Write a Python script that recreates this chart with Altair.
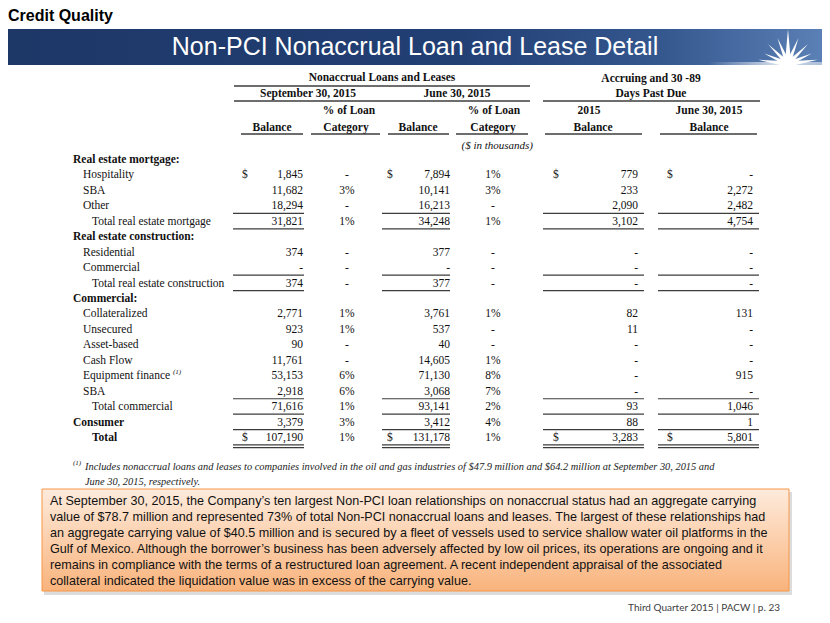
import altair as alt
import pandas as pd

# ---------------- data ----------------
page_title = "Credit Quality"
slide_title = "Non-PCI Nonaccrual Loan and Lease Detail"

row_labels = ["Real estate mortgage:", "Hospitality", "SBA", "Other", "Total real estate mortgage",
              "Real estate construction:", "Residential", "Commercial", "Total real estate construction",
              "Commercial:", "Collateralized", "Unsecured", "Asset-based", "Cash Flow", "Equipment finance",
              "SBA", "Total commercial", "Consumer", "Total"]
row_level = [0, 1, 1, 1, 2, 0, 1, 1, 2, 0, 1, 1, 1, 1, 1, 1, 2, 0, 2]
row_bold = [True, False, False, False, False, True, False, False, False, True,
            False, False, False, False, False, False, False, True, True]

sep30_balance = ["", "1,845", "11,682", "18,294", "31,821", "", "374", "-", "374", "",
                 "2,771", "923", "90", "11,761", "53,153", "2,918", "71,616", "3,379", "107,190"]
sep30_pct = ["", "-", "3%", "-", "1%", "", "-", "-", "-", "",
             "1%", "1%", "-", "-", "6%", "6%", "1%", "3%", "1%"]
jun30_balance = ["", "7,894", "10,141", "16,213", "34,248", "", "377", "-", "377", "",
                 "3,761", "537", "40", "14,605", "71,130", "3,068", "93,141", "3,412", "131,178"]
jun30_pct = ["", "1%", "3%", "-", "1%", "", "-", "-", "-", "",
             "1%", "-", "-", "1%", "8%", "7%", "2%", "4%", "1%"]
accruing_2015 = ["", "779", "233", "2,090", "3,102", "", "-", "-", "-", "",
                 "82", "11", "-", "-", "-", "-", "93", "88", "3,283"]
accruing_jun30 = ["", "-", "2,272", "2,482", "4,754", "", "-", "-", "-", "",
                  "131", "-", "-", "-", "915", "-", "1,046", "1", "5,801"]
dollar_rows = [1, 18]
single_rule_rows = [3, 4, 7, 8, 15, 16, 17]
double_rule_rows = [18]
footnoted_row = 14

header_top = ["Nonaccrual Loans and Leases", "Accruing and 30 -89"]
header_dates = ["September 30, 2015", "June 30, 2015", "Days Past Due"]
header_mid = ["% of Loan", "% of Loan", "2015", "June 30, 2015"]
header_sub = ["Balance", "Category", "Balance", "Category", "Balance", "Balance"]
units_note = "($ in thousands)"
footnote_mark = "(1)"
footnote_lines = [
    "Includes nonaccrual loans and leases to companies involved in the oil and gas industries of $47.9 million and $64.2 million at September 30, 2015 and",
    "June 30, 2015, respectively.",
]
box_lines = [
    "At September 30, 2015, the Company\u2019s ten largest Non-PCI loan relationships on nonaccrual status had an aggregate carrying",
    "value of $78.7 million and represented 73% of total Non-PCI nonaccrual loans and leases. The largest of these relationships had",
    "an aggregate carrying value of $40.5 million and is secured by a fleet of vessels used to service shallow water oil platforms in the",
    "Gulf of Mexico. Although the borrower\u2019s business has been adversely affected by low oil prices, its operations are ongoing and it",
    "remains in compliance with the terms of a restructured loan agreement. A recent independent appraisal of the associated",
    "collateral indicated the liquidation value was in excess of the carrying value.",
]
footer_text = "Third Quarter 2015 | PACW | p. 23"

# ---------------- layout / style ----------------
W, H = 814, 606
SERIF = "Liberation Serif"
SANS = "Liberation Sans"
INK = "#111111"
RULE = "#3c3c3c"
row_scale = alt.Scale(domain=[0, 18], range=[151, 429])
label_x = {0: 65, 1: 75, 2: 84}
value_cols = [(sep30_balance, 295, "right"), (sep30_pct, 339, "center"),
              (jun30_balance, 442, "right"), (jun30_pct, 485, "center"),
              (accruing_2015, 630, "right"), (accruing_jun30, 745, "right")]
dollar_x = [234, 379, 545, 659]
rule_spans = [(225, 296), (374, 442), (535, 636), (650, 751)]

one = alt.Data(values=[{}])


def PXX(f):
    return alt.X(f, scale=None, axis=None)


def PXY(f):
    return alt.Y(f, scale=None, axis=None)


def ROWY(f, sc=row_scale):
    return alt.Y(f, scale=sc, axis=None)


def px_text(df, **mk):
    return alt.Chart(df).mark_text(**mk).encode(x=PXX("x:Q"), y=PXY("y:Q"), text="text:N")


layers = []

# banner
layers.append(alt.Chart(one).mark_rect(color={
    "gradient": "linear", "x1": 0, "x2": 1, "y1": 0, "y2": 0,
    "stops": [{"offset": 0, "color": "#1d3767"}, {"offset": 0.55, "color": "#223f74"},
              {"offset": 0.8, "color": "#34578e"}, {"offset": 1, "color": "#5b80b6"}]}
).encode(x=alt.value(0), x2=alt.value(W), y=alt.value(20), y2=alt.value(56)))
layers.append(alt.Chart(one).mark_rect(color={
    "gradient": "linear", "x1": 0, "x2": 1, "y1": 0, "y2": 0,
    "stops": [{"offset": 0, "color": "rgba(255,255,255,0)"}, {"offset": 0.6, "color": "rgba(255,255,255,0.75)"},
              {"offset": 1, "color": "rgba(255,255,255,0.5)"}]}
).encode(x=alt.value(700), x2=alt.value(W), y=alt.value(53), y2=alt.value(56)))

# sunburst logo
ray_angle = [0, 22, 45, 66, 82, 338, 315, 294, 278]
ray_len = [35, 28, 28, 26, 30, 28, 28, 26, 30]
rays = pd.DataFrame({"angle": ray_angle, "size": [4 * l * l for l in ray_len]})
layers.append(alt.Chart(rays).mark_point(
    shape="M -0.09 0 L 0 -1 L 0.09 0 Z", filled=True, color="white", opacity=1, strokeWidth=0
).encode(x=alt.value(780), y=alt.value(55), angle=alt.Angle("angle:Q", scale=None),
         size=alt.Size("size:Q", scale=None)))
layers.append(alt.Chart(one).mark_arc(color="white", radius=7).encode(
    x=alt.value(780), y=alt.value(56), theta=alt.value(4.712), theta2=alt.value(7.854)))

# titles
layers.append(alt.Chart(one).mark_text(text=slide_title, font=SANS, fontSize=25, color="white",
                                       align="center", baseline="middle").encode(
    x=alt.value(407), y=alt.value(38)))
layers.append(alt.Chart(one).mark_text(text=page_title, font=SANS, fontSize=16, fontWeight="bold",
                                       color="#000000", align="left", baseline="alphabetic").encode(
    x=alt.value(0), y=alt.value(12)))

# column headers
head_pos = [(374, 69), (643, 70), (300, 85), (449, 85), (643, 85),
            (341, 102), (486, 102), (581, 102), (701, 102),
            (264, 119), (338, 119), (410, 119), (485, 119), (585, 119), (701, 119)]
head_text = header_top + header_dates + header_mid + header_sub
head_df = pd.DataFrame({"text": head_text, "x": [p[0] for p in head_pos], "y": [p[1] for p in head_pos]})
layers.append(px_text(head_df, font=SERIF, fontSize=11.5, fontWeight="bold", color=INK,
                      align="center", baseline="middle"))
layers.append(alt.Chart(one).mark_text(text=units_note, font=SERIF, fontSize=11, fontStyle="italic",
                                       color=INK, align="right", baseline="middle").encode(
    x=alt.value(525), y=alt.value(137)))
head_rules = pd.DataFrame([(226, 522, 77), (226, 522, 92), (535, 752, 92),
                           (233, 295, 125), (303, 372, 125), (380, 441, 125), (448, 520, 125),
                           (537, 634, 125), (652, 749, 125)], columns=["x", "x2", "y"])
layers.append(alt.Chart(head_rules).mark_rule(color=RULE, strokeWidth=1.3).encode(
    x=PXX("x:Q"), x2="x2:Q", y=PXY("y:Q")))

# body labels
lab = pd.DataFrame({"row": range(len(row_labels)), "text": row_labels,
                    "x": [label_x[l] for l in row_level], "bold": row_bold})
for b, wt in [(True, "bold"), (False, "normal")]:
    layers.append(alt.Chart(lab[lab.bold == b]).mark_text(
        font=SERIF, fontSize=11.5, fontWeight=wt, color=INK, align="left", baseline="middle"
    ).encode(x=PXX("x:Q"), y=ROWY("row:Q"), text="text:N"))
layers.append(alt.Chart(pd.DataFrame({"row": [footnoted_row - 0.3], "text": [footnote_mark], "x": [165]}))
              .mark_text(font=SERIF, fontSize=7, fontStyle="italic", color=INK, align="left", baseline="middle")
              .encode(x=PXX("x:Q"), y=ROWY("row:Q"), text="text:N"))

# body values
for vals, xa, al in value_cols:
    df = pd.DataFrame({"row": range(len(vals)), "text": vals, "x": xa})
    df = df[df.text != ""]
    layers.append(alt.Chart(df).mark_text(font=SERIF, fontSize=11.5, color=INK, align=al,
                                          baseline="middle").encode(
        x=PXX("x:Q"), y=ROWY("row:Q"), text="text:N"))
dol = pd.DataFrame([(r, xd, "$") for r in dollar_rows for xd in dollar_x], columns=["row", "x", "text"])
layers.append(alt.Chart(dol).mark_text(font=SERIF, fontSize=11.5, color=INK, align="left",
                                       baseline="middle").encode(
    x=PXX("x:Q"), y=ROWY("row:Q"), text="text:N"))

# body rules
rr = [(a, b, r + 0.46) for r in single_rule_rows for a, b in rule_spans]
rr += [(a, b, r + off) for r in double_rule_rows for a, b in rule_spans for off in (0.44, 0.62)]
rules = pd.DataFrame(rr, columns=["x", "x2", "r"])
layers.append(alt.Chart(rules).mark_rule(color=RULE, strokeWidth=1.2).encode(
    x=PXX("x:Q"), x2="x2:Q", y=ROWY("r:Q")))

# footnote
fn = pd.DataFrame({"i": range(len(footnote_lines)), "text": footnote_lines})
layers.append(alt.Chart(fn).mark_text(font=SERIF, fontSize=10.4, fontStyle="italic", color="#222222",
                                      align="left", baseline="middle").encode(
    x=alt.value(77), y=ROWY("i:Q", alt.Scale(domain=[0, 1], range=[458, 473])), text="text:N"))
layers.append(alt.Chart(one).mark_text(text=footnote_mark, font=SERIF, fontSize=7, fontStyle="italic",
                                       color="#222222", align="left", baseline="middle").encode(
    x=alt.value(65), y=alt.value(454)))

# callout box
layers.append(alt.Chart(one).mark_rect(color="#9a9a9a", opacity=0.35).encode(
    x=alt.value(36), x2=alt.value(784), y=alt.value(483), y2=alt.value(586)))
layers.append(alt.Chart(one).mark_rect(color={
    "gradient": "linear", "x1": 0, "x2": 0, "y1": 0, "y2": 1,
    "stops": [{"offset": 0, "color": "#feebdc"}, {"offset": 1, "color": "#f9b37c"}]},
    stroke="#f79646", strokeWidth=1).encode(
    x=alt.value(34), x2=alt.value(781), y=alt.value(480), y2=alt.value(582)))
bx = pd.DataFrame({"i": range(len(box_lines)), "text": box_lines})
layers.append(alt.Chart(bx).mark_text(font=SANS, fontSize=12.6, color="#111111", align="left",
                                      baseline="middle").encode(
    x=alt.value(42), y=ROWY("i:Q", alt.Scale(domain=[0, 5], range=[492, 572])), text="text:N"))

# footer
layers.append(alt.Chart(one).mark_text(text=footer_text, font="Lato", fontSize=10, color="#404040",
                                       align="right", baseline="alphabetic").encode(
    x=alt.value(772), y=alt.value(602)))

chart = alt.layer(*layers).resolve_scale(x="independent", y="independent").properties(
    width=W, height=H, padding=0,
    autosize=alt.AutoSizeParams(type="fit", contains="padding"),
    background="white",
).configure_view(stroke=None)

chart.save("out.html", embed_options={"renderer": "svg", "actions": False})
